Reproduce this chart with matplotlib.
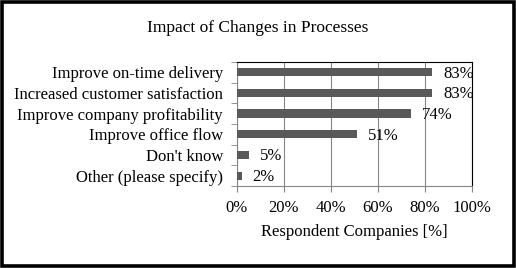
import matplotlib.pyplot as plt
from matplotlib.patches import Rectangle
import numpy as np

plt.rcParams['font.family'] = ['Liberation Serif', 'DejaVu Serif']

categories = ['Improve on-time delivery', 'Increased customer satisfaction',
              'Improve company profitability', 'Improve office flow',
              "Don't know", 'Other (please specify)']
values = [83, 83, 74, 51, 5, 2]
xticks = [0, 20, 40, 60, 80, 100]

fig = plt.figure(figsize=(5.16, 2.68), dpi=100)
ax = fig.add_axes([0.459, 0.306, 0.456, 0.463])

y = np.arange(len(categories))
ax.barh(y, values, height=0.4, color='#595959', zorder=3)
for yi, v in zip(y, values):
    ax.annotate(f'{v}%', (v, yi), xytext=(8, -1), textcoords='offset points',
                va='center', ha='left', fontsize=12, zorder=4)

ax.set_ylim(len(categories) - 0.5, -0.5)
ax.set_xlim(0, 100)
ax.set_xticks(xticks)
ax.set_xticklabels([f'{t}%' for t in xticks], fontsize=12)
ax.set_yticks(y)
ax.set_yticklabels(categories, fontsize=12)
ax.tick_params(axis='y', length=0, pad=10)
ax.set_yticks(np.arange(-0.5, len(categories)), minor=True)
ax.tick_params(axis='y', which='minor', length=4, color='#868686', direction='out')
ax.tick_params(axis='x', length=4, color='#868686', direction='out', pad=6)
ax.xaxis.grid(True, color='#868686', linewidth=0.8, zorder=0)
ax.set_xlabel('Respondent Companies [%]', fontsize=12, labelpad=6)

for s in ['left', 'bottom']:
    ax.spines[s].set_color('#868686')
for s in ['top', 'right']:
    ax.spines[s].set_color('black')
    ax.spines[s].set_linewidth(0.8)

fig.text(0.5, 0.895, 'Impact of Changes in Processes', ha='center', va='center', fontsize=12.5)
fig.patches.append(Rectangle((0.004, 0.006), 0.992, 0.988, transform=fig.transFigure,
                             fill=False, edgecolor='black', linewidth=2.6))

fig.savefig('out.png', dpi=100)
